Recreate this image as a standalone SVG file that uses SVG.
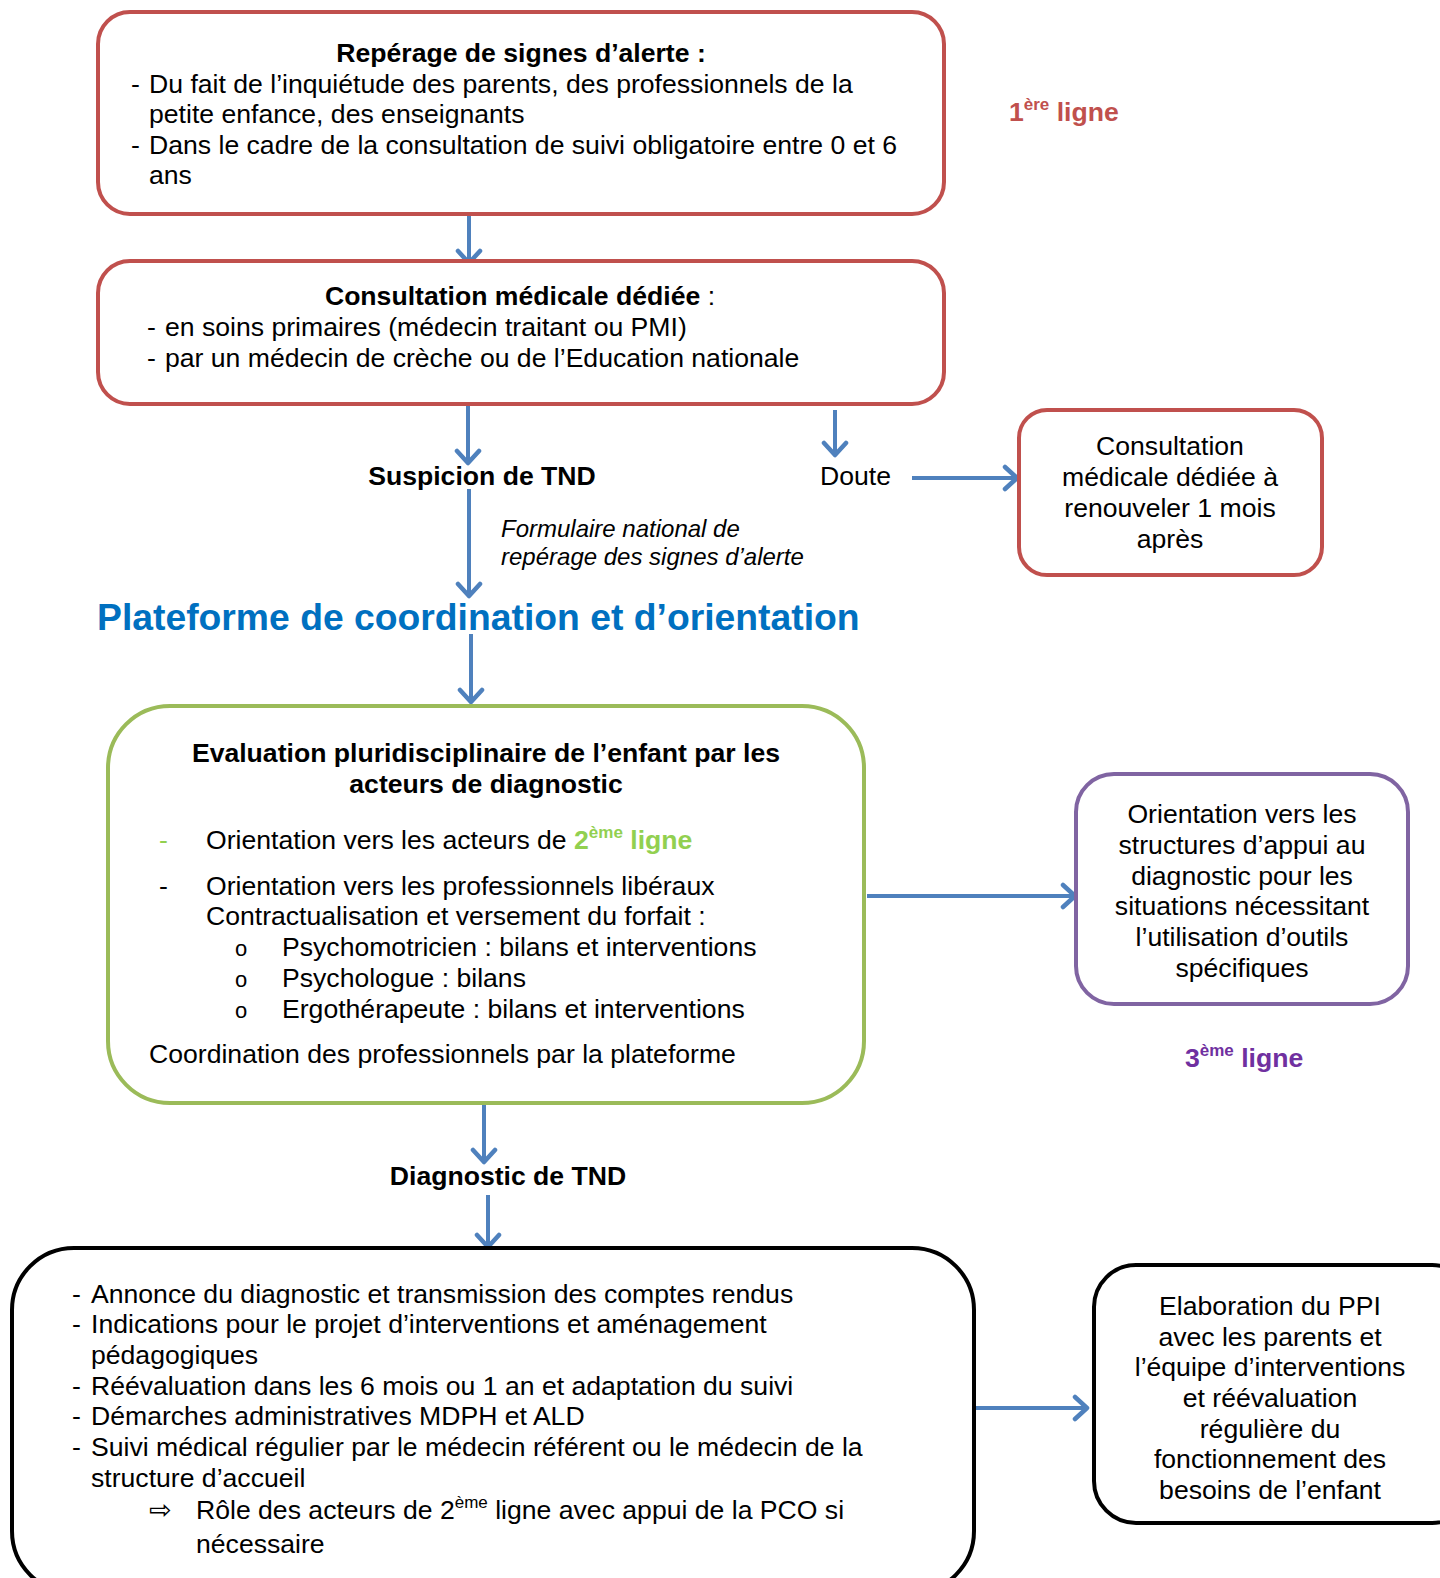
<svg xmlns="http://www.w3.org/2000/svg" width="1440" height="1578" viewBox="0 0 1440 1578">
<style>
text{font-family:"Liberation Sans",Arial,sans-serif;font-size:26.6px;fill:#000}
.b{font-weight:bold}
.c{text-anchor:middle}
.i{font-style:italic;font-size:24px}
.box{fill:#fff;stroke-width:4}
.red{stroke:#c0504d}
.grn{stroke:#9bbb59}
.pur{stroke:#8064a2}
.blk{stroke:#000}
.con{stroke:#4f81bd;stroke-width:4;fill:none;marker-end:url(#ah)}
.sup{font-size:17px}
</style>
<defs>
<marker id="ah" markerUnits="userSpaceOnUse" markerWidth="30" markerHeight="30" refX="14" refY="12" orient="auto" viewBox="0 0 30 24">
<path d="M3,1 L15,12 L3,23" fill="none" stroke="#4f81bd" stroke-width="4.5" stroke-linecap="round" stroke-linejoin="round"/>
</marker>
</defs>
<rect width="1440" height="1578" fill="#fff"/>
<g id="connectors">
<path class="con" d="M469,216 V262"/>
<path class="con" d="M468,405 V462"/>
<path class="con" d="M835,410 V454"/>
<path class="con" d="M912,478 H1016"/>
<path class="con" d="M469,489 V595"/>
<path class="con" d="M471,634 V701"/>
<path class="con" d="M867,896 H1074"/>
<path class="con" d="M484,1105 V1161"/>
<path class="con" d="M488,1195 V1246"/>
<path class="con" d="M976,1408 H1086"/>
</g>
<g id="reperage">
<rect class="box red" x="98" y="12" width="846" height="202" rx="32"/>
<text class="b c" x="521" y="62">Repérage de signes d’alerte :</text>
<text x="131" y="93">-</text><text x="149" y="93">Du fait de l’inquiétude des parents, des professionnels de la</text>
<text x="149" y="123">petite enfance, des enseignants</text>
<text x="131" y="154">-</text><text x="149" y="154">Dans le cadre de la consultation de suivi obligatoire entre 0 et 6</text>
<text x="149" y="184">ans</text>
</g>
<g id="premiere-ligne">
<text class="b" x="1009" y="121" style="fill:#c0504d">1<tspan class="sup" dy="-11">ère</tspan><tspan dy="11"> ligne</tspan></text>
</g>
<g id="consultation">
<rect class="box red" x="98" y="261" width="846" height="143" rx="32"/>
<text class="c" x="520" y="305"><tspan class="b">Consultation médicale dédiée</tspan> :</text>
<text x="147" y="336">-</text><text x="165" y="336">en soins primaires (médecin traitant ou PMI)</text>
<text x="147" y="367">-</text><text x="165" y="367">par un médecin de crèche ou de l’Education nationale</text>
</g>
<g id="suspicion">
<text class="b c" x="482" y="485">Suspicion de TND</text>
</g>
<g id="doute">
<text x="820" y="485">Doute</text>
</g>
<g id="formulaire">
<text class="i" x="501" y="537">Formulaire national de</text>
<text class="i" x="501" y="565">repérage des signes d’alerte</text>
</g>
<g id="renouveler">
<rect class="box red" x="1019" y="410" width="303" height="165" rx="28"/>
<text class="c" x="1170" y="455">Consultation</text>
<text class="c" x="1170" y="486">médicale dédiée à</text>
<text class="c" x="1170" y="517">renouveler 1 mois</text>
<text class="c" x="1170" y="548">après</text>
</g>
<g id="plateforme">
<text class="b" x="97" y="630" style="fill:#0070c0;font-size:37.3px">Plateforme de coordination et d’orientation</text>
</g>
<g id="evaluation">
<rect class="box grn" x="108" y="706" width="756" height="397" rx="62"/>
<text class="b c" x="486" y="762">Evaluation pluridisciplinaire de l’enfant par les</text>
<text class="b c" x="486" y="793">acteurs de diagnostic</text>
<text x="159" y="849" style="fill:#92d050">-</text>
<text x="206" y="849">Orientation vers les acteurs de <tspan class="b" style="fill:#92d050">2</tspan><tspan class="b sup" dy="-11" style="fill:#92d050">ème</tspan><tspan class="b" dy="11" style="fill:#92d050"> ligne</tspan></text>
<text x="159" y="895">-</text>
<text x="206" y="895">Orientation vers les professionnels libéraux</text>
<text x="206" y="925">Contractualisation et versement du forfait :</text>
<text x="235" y="956" style="font-size:22px">o</text><text x="282" y="956">Psychomotricien : bilans et interventions</text>
<text x="235" y="987" style="font-size:22px">o</text><text x="282" y="987">Psychologue : bilans</text>
<text x="235" y="1018" style="font-size:22px">o</text><text x="282" y="1018">Ergothérapeute : bilans et interventions</text>
<text x="149" y="1063">Coordination des professionnels par la plateforme</text>
</g>
<g id="structures">
<rect class="box pur" x="1076" y="774" width="332" height="230" rx="38"/>
<text class="c" x="1242" y="823">Orientation vers les</text>
<text class="c" x="1242" y="854">structures d’appui au</text>
<text class="c" x="1242" y="885">diagnostic pour les</text>
<text class="c" x="1242" y="915">situations nécessitant</text>
<text class="c" x="1242" y="946">l’utilisation d’outils</text>
<text class="c" x="1242" y="977">spécifiques</text>
</g>
<g id="troisieme-ligne">
<text class="b" x="1185" y="1067" style="fill:#7030a0">3<tspan class="sup" dy="-11">ème</tspan><tspan dy="11"> ligne</tspan></text>
</g>
<g id="diagnostic">
<text class="b c" x="508" y="1185">Diagnostic de TND</text>
</g>
<g id="annonce">
<rect class="box blk" x="12" y="1248" width="962" height="345" rx="62"/>
<text x="72" y="1303">-</text><text x="91" y="1303">Annonce du diagnostic et transmission des comptes rendus</text>
<text x="72" y="1333">-</text><text x="91" y="1333">Indications pour le projet d’interventions et aménagement</text>
<text x="91" y="1364">pédagogiques</text>
<text x="72" y="1395">-</text><text x="91" y="1395">Réévaluation dans les 6 mois ou 1 an et adaptation du suivi</text>
<text x="72" y="1425">-</text><text x="91" y="1425">Démarches administratives MDPH et ALD</text>
<text x="72" y="1456">-</text><text x="91" y="1456">Suivi médical régulier par le médecin référent ou le médecin de la</text>
<text x="91" y="1487">structure d’accueil</text>
<text x="149" y="1519" style="font-family:'DejaVu Sans',sans-serif;font-size:27px">⇨</text>
<text x="196" y="1519">Rôle des acteurs de 2<tspan class="sup" dy="-11">ème</tspan><tspan dy="11"> ligne avec appui de la PCO si</tspan></text>
<text x="196" y="1553">nécessaire</text>
</g>
<g id="ppi">
<rect class="box blk" x="1094" y="1265" width="380" height="258" rx="42"/>
<text class="c" x="1270" y="1315">Elaboration du PPI</text>
<text class="c" x="1270" y="1346">avec les parents et</text>
<text class="c" x="1270" y="1376">l’équipe d’interventions</text>
<text class="c" x="1270" y="1407">et réévaluation</text>
<text class="c" x="1270" y="1438">régulière du</text>
<text class="c" x="1270" y="1468">fonctionnement des</text>
<text class="c" x="1270" y="1499">besoins de l’enfant</text>
</g>
</svg>
